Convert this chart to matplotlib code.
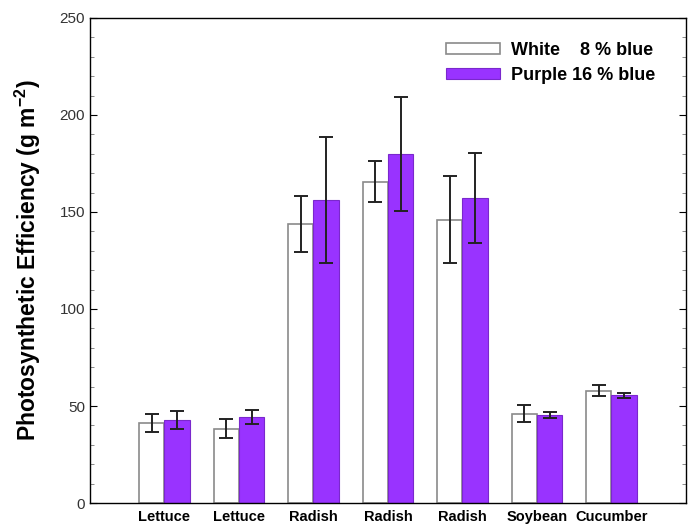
import numpy as np
import matplotlib.pyplot as plt
from matplotlib.ticker import MultipleLocator

plt.rcParams['font.family'] = ['Liberation Sans', 'DejaVu Sans']

crops = ['Lettuce', 'Lettuce', 'Radish', 'Radish', 'Radish', 'Soybean', 'Cucumber']
white_mean = [41.3, 38.3, 143.7, 165.6, 146.0, 46.0, 57.9]
white_err = [4.7, 4.9, 14.3, 10.5, 22.5, 4.5, 2.7]
purple_mean = [42.9, 44.2, 156.2, 180.0, 157.2, 45.5, 55.5]
purple_err = [4.6, 3.6, 32.3, 29.5, 23.1, 1.6, 1.4]

x = np.arange(1, len(crops) + 1)
w = 0.34

fig = plt.figure(figsize=(6.96, 5.32), dpi=100)
ax = fig.add_axes([0.1293, 0.0545, 0.8563, 0.9117])

ax.bar(x - w / 2, white_mean, w, color='white', edgecolor='#8a8a8a', linewidth=1.2,
       label='White    8 % blue')
ax.bar(x + w / 2, purple_mean, w, color='#9933ff', edgecolor='#7a28cc', linewidth=0.8,
       label='Purple 16 % blue')
ax.errorbar(x - w / 2, white_mean, yerr=white_err, fmt='none', ecolor='#222222',
            elinewidth=1.4, capsize=5, capthick=1.4)
ax.errorbar(x + w / 2, purple_mean, yerr=purple_err, fmt='none', ecolor='#222222',
            elinewidth=1.4, capsize=5, capthick=1.4)

ax.set_xlim(0, 8)
ax.set_ylim(0, 250)
ax.set_xticks(x)
ax.set_xticklabels(crops, fontweight='bold', fontsize=10.5)
ax.tick_params(axis='x', length=0, pad=5)
ax.yaxis.set_major_locator(MultipleLocator(50))
ax.yaxis.set_minor_locator(MultipleLocator(10))
ax.tick_params(axis='y', which='both', direction='in', right=True, labelsize=11,
               labelcolor='#333333')
ax.tick_params(axis='y', which='major', length=5)
ax.tick_params(axis='y', which='minor', length=3, color='#777777')
for s in ax.spines.values():
    s.set_linewidth(1.0)

ax.set_ylabel('Photosynthetic Efficiency (g m$^{\\mathregular{-2}}$)', fontsize=16.5,
              fontweight='bold', labelpad=12)

ax.legend(loc='upper right', bbox_to_anchor=(0.975, 0.985), frameon=False,
          prop={'weight': 'bold', 'size': 13}, handlelength=3.0, handleheight=0.55,
          handletextpad=0.6, labelspacing=0.45)

fig.savefig('out.png', dpi=100)
